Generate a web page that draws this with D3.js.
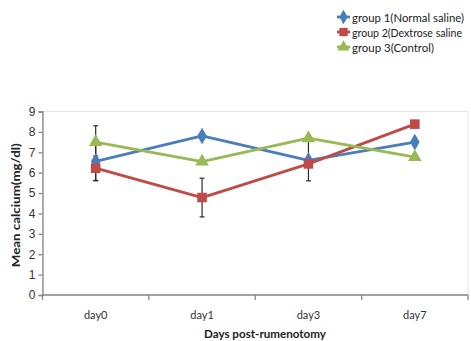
<!DOCTYPE html>
<html>
<head>
<meta charset="utf-8">
<script src="https://cdn.jsdelivr.net/npm/d3@7"></script>
<style>
  html, body { margin: 0; padding: 0; background: #fff; }
  svg { display: block; font-family: Lato, "Open Sans", sans-serif; }
</style>
</head>
<body>
<svg id="chart" width="471" height="341"></svg>
<script>
// Days and mean serum calcium (mg/dl) per group
const days = ["day0", "day1", "day3", "day7"];
const group1 = [6.55, 7.8, 6.6, 7.5];
const group2 = [6.22, 4.78, 6.43, 8.38];
const group3 = [7.5, 6.54, 7.69, 6.76];
// Standard error shown for selected points (0 = none)
const group1Err = [0.95, 0, 1.0, 0];
const group2Err = [0.6, 0.95, 0, 0];
const group3Err = [0.8, 0, 0, 0];
const seriesNames = ["group 1(Normal saline)", "group 2(Dextrose saline", "group 3(Control)"];
const yTicks = [0, 1, 2, 3, 4, 5, 6, 7, 8, 9];

const colors = ["#4a7ebb", "#be4b48", "#98b954"];
const symbols = [d3.symbolDiamond, d3.symbolSquare, d3.symbolTriangle];
const symSizes = [80, 92, 80];
const legendWidths = [112, 110, 82];

const series = [
  { name: seriesNames[0], values: group1, err: group1Err },
  { name: seriesNames[1], values: group2, err: group2Err },
  { name: seriesNames[2], values: group3, err: group3Err }
];

const svg = d3.select("#chart");
const plot = { left: 42.5, right: 468, top: 111.5, bottom: 295 };

const x = d3.scaleBand().domain(days).range([plot.left, plot.right]);
const y = d3.scaleLinear().domain([0, 9]).range([plot.bottom, plot.top]);

// plot area frame
svg.append("rect")
  .attr("x", plot.left).attr("y", plot.top)
  .attr("width", plot.right - plot.left).attr("height", plot.bottom - plot.top)
  .attr("fill", "none").attr("stroke", "#e4e4e4").attr("stroke-width", 1);

// y axis
const yAxis = svg.append("g")
  .attr("transform", `translate(${plot.left},0)`)
  .call(d3.axisLeft(y).tickValues(yTicks).tickSize(4).tickPadding(3).tickFormat(d3.format("d")));
yAxis.select(".domain").attr("stroke", "#868686").attr("stroke-width", 1.3);
yAxis.selectAll(".tick line").attr("stroke", "#868686").attr("stroke-width", 1.3);
yAxis.selectAll("text").attr("fill", "#333").attr("font-size", 12);

// x axis: ticks sit on the category boundaries
const xAxisG = svg.append("g").attr("transform", `translate(0,${plot.bottom})`);
xAxisG.append("line")
  .attr("x1", plot.left).attr("x2", plot.right)
  .attr("stroke", "#868686").attr("stroke-width", 1.3);
const bounds = days.map(d => x(d)).concat([x(days[days.length - 1]) + x.bandwidth()]);
xAxisG.selectAll(".btick").data(bounds).join("line")
  .attr("x1", d => d).attr("x2", d => d).attr("y1", 0).attr("y2", 5)
  .attr("stroke", "#868686").attr("stroke-width", 1.3);
xAxisG.selectAll(".xlab").data(days).join("text")
  .attr("x", d => x(d) + x.bandwidth() / 2)
  .attr("y", 24)
  .attr("text-anchor", "middle")
  .attr("font-size", 11)
  .attr("fill", "#333")
  .text(d => d);

// axis titles
svg.append("text")
  .attr("x", 265).attr("y", 338)
  .attr("text-anchor", "middle")
  .attr("font-size", 11.5).attr("font-weight", "bold").attr("fill", "#222")
  .attr("textLength", 122).attr("lengthAdjust", "spacingAndGlyphs")
  .text("Days post-rumenotomy");
svg.append("text")
  .attr("transform", `translate(20,${(plot.top + plot.bottom) / 2 + 2}) rotate(-90)`)
  .attr("text-anchor", "middle")
  .attr("font-size", 12).attr("font-weight", "bold").attr("fill", "#222")
  .attr("textLength", 124).attr("lengthAdjust", "spacingAndGlyphs")
  .text("Mean calcium(mg/dl)");

const cx = d => x(d) + x.bandwidth() / 2;
const line = d3.line().x((v, i) => cx(days[i])).y(v => y(v));

// series lines
series.forEach((s, k) => {
  svg.append("path")
    .attr("d", line(s.values))
    .attr("fill", "none")
    .attr("stroke", colors[k])
    .attr("stroke-width", 2.8)
    .attr("stroke-linejoin", "round");
});

// error bars
series.forEach((s, k) => {
  s.values.forEach((v, i) => {
    const e = s.err[i];
    if (!e) return;
    const g = svg.append("g").attr("stroke", "#2b2b2b").attr("stroke-width", 1.2);
    const px = cx(days[i]);
    g.append("line").attr("x1", px).attr("x2", px).attr("y1", y(v + e)).attr("y2", y(v - e));
    [v + e, v - e].forEach(t => {
      g.append("line").attr("x1", px - 2.5).attr("x2", px + 2.5).attr("y1", y(t)).attr("y2", y(t));
    });
  });
});

// markers
series.forEach((s, k) => {
  svg.selectAll(null).data(s.values).join("path")
    .attr("transform", (v, i) => `translate(${cx(days[i])},${y(v)})`)
    .attr("d", d3.symbol().type(symbols[k]).size(symSizes[k]))
    .attr("fill", colors[k]);
});

// legend
const legend = svg.append("g");
series.forEach((s, k) => {
  const ly = 17 + k * 15;
  legend.append("line")
    .attr("x1", 337).attr("x2", 350).attr("y1", ly).attr("y2", ly)
    .attr("stroke", colors[k]).attr("stroke-width", 2.8);
  legend.append("path")
    .attr("transform", `translate(343.5,${ly})`)
    .attr("d", d3.symbol().type(symbols[k]).size(symSizes[k] * 0.75))
    .attr("fill", colors[k]);
  legend.append("text")
    .attr("x", 352).attr("y", ly + 4.5)
    .attr("font-size", 11.5).attr("fill", "#222")
    .attr("textLength", legendWidths[k]).attr("lengthAdjust", "spacingAndGlyphs")
    .text(s.name);
});
</script>
</body>
</html>
